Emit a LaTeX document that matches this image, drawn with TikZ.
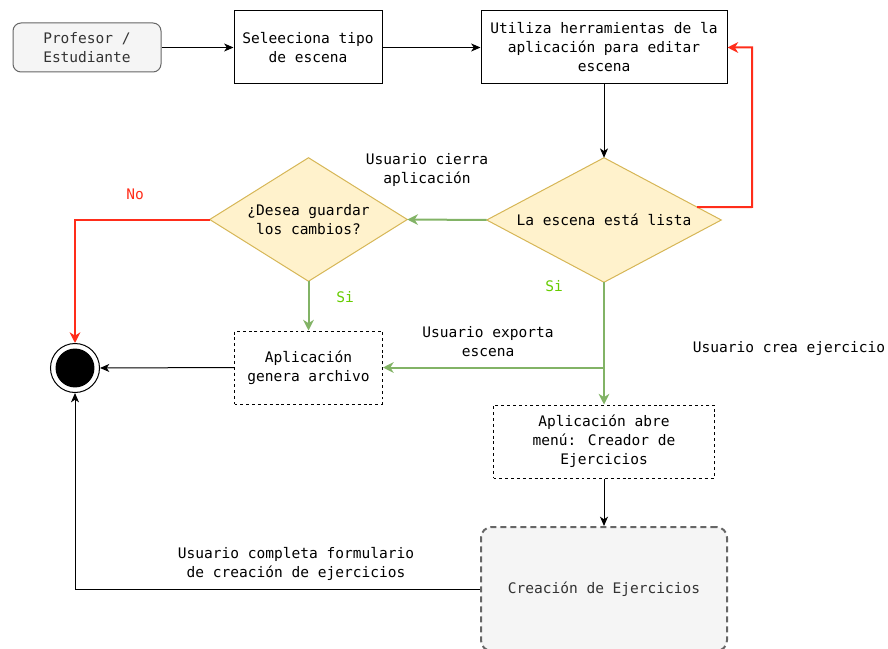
\documentclass[tikz,border=0pt]{standalone}
\usepackage{fontspec}
\setmainfont{DejaVu Sans Mono}
\usetikzlibrary{shapes.geometric,arrows.meta,calc,backgrounds}
\definecolor{boxgray}{HTML}{F5F5F5}
\definecolor{edgegray}{HTML}{666666}
\definecolor{txtgray}{HTML}{333333}
\definecolor{decfill}{HTML}{FFF2CC}
\definecolor{decdraw}{HTML}{D6B656}
\definecolor{okgreen}{HTML}{82B366}
\definecolor{sigreen}{HTML}{66CC00}
\definecolor{nored}{HTML}{FF2D1A}
\tikzset{
  txt/.style={font=\fontsize{10.9}{14.25}\selectfont, align=center},
  stepbox/.style={txt, draw, line width=0.75pt, rectangle, minimum width=148*0.75pt, minimum height=73*0.75pt, inner sep=2pt},
  dashbox/.style={stepbox, dash pattern=on 2.2pt off 2.2pt},
  decision/.style={txt, rectangle, inner sep=0pt},
  rhombus/.style={draw=decdraw, fill=decfill, line width=0.75pt, line join=miter},
  flow/.style={line width=0.75pt, -{Stealth[length=7pt,width=6pt,inset=2pt]}},
  yes/.style={flow, draw=okgreen, line width=1.5pt, -{Stealth[length=8pt,width=8pt,inset=2.5pt]}},
  nobranch/.style={flow, draw=nored, line width=1.5pt, -{Stealth[length=8pt,width=8pt,inset=2.5pt]}},
  lbl/.style={txt, inner sep=1pt}
}
\begin{document}
\begin{tikzpicture}[x=0.75pt,y=-0.75pt]
\useasboundingbox (0,0) rectangle (888,649);

% actor and first steps
\node[txt, draw=edgegray, fill=boxgray, text=txtgray, rounded corners=6pt, line width=0.75pt,
      minimum width=148*0.75pt, minimum height=49*0.75pt] (actor) at (87,47.5) {Profesor /\\Estudiante};
\node[stepbox] (tipo) at (308,47.5) {Seleeciona tipo\\de escena};
\node[stepbox, minimum width=246*0.75pt] (edit) at (604,47.5) {Utiliza herramientas de la\\aplicación para editar\\escena};

% decisions: a text box whose side midpoints are the rhombus corners
\node[decision, minimum width=234*0.75pt, minimum height=124*0.75pt] (lista) at (604,220) {La escena está lista};
\node[decision, minimum width=197*0.75pt, minimum height=123*0.75pt] (guardar) at (308.5,219.5) {¿Desea guardar\\los cambios?};
\begin{scope}[on background layer]
  \filldraw[rhombus] (lista.north) -- (lista.east) -- (lista.south) -- (lista.west) -- cycle;
  \filldraw[rhombus] (guardar.north) -- (guardar.east) -- (guardar.south) -- (guardar.west) -- cycle;
\end{scope}

% final state
\node[circle, draw, line width=0.75pt, fill=white, minimum size=49*0.75pt, inner sep=0pt] (fin) at (75,368) {};
\fill[black] (fin.center) circle[radius=14.6pt];

% actions
\node[dashbox] (archivo) at (308.5,367.5) {Aplicación\\genera archivo};
\node[dashbox, minimum width=221*0.75pt] (menu) at (604,441.5) {Aplicación abre\\menú: Creador de\\Ejercicios};
\node[txt, draw=edgegray, fill=boxgray, text=txtgray, rounded corners=8pt, line width=1.5pt,
      dash pattern=on 4.5pt off 3pt, minimum width=246*0.75pt, minimum height=124*0.75pt] (crea) at (604,589) {Creación de Ejercicios};

% connectors
\draw[flow] (actor) -- (tipo);
\draw[flow] (tipo) -- (edit);
\draw[flow] (edit) -- (lista.north);
\coordinate (rstart) at ($(lista.north)!0.795!(lista.east)$);
\draw[nobranch] (rstart) -- (752,207) |- (edit.east);
\draw[yes] (lista.west) -- (guardar.east);
\draw[nobranch] (guardar.west) -| (fin.north);
\draw[yes] (guardar.south) -- (archivo.north);
\draw[yes] (lista.south) -- (menu.north);
\coordinate (fork) at (lista.south |- archivo.east);
\draw[yes] (fork) -- (archivo.east);
\draw[flow] (archivo.west) -- (fin.east);
\draw[flow] (menu.south) -- (crea.north);
\draw[flow] (crea.west) -| (fin.south);

% connector labels
\node[lbl] (lcierra) at (427,170) {Usuario cierra\\aplicación};
\node[lbl, text=nored] (lno) at (135,194) {No};
\node[lbl, text=sigreen] (lsi1) at (345,297) {Si};
\node[lbl, text=sigreen] (lsi2) at (554,286) {Si};
\node[lbl] (lexporta) at (488,342) {Usuario exporta\\escena};
\node[lbl] (lcrea) at (789,348) {Usuario crea ejercicio};
\node[lbl] (lcompleta) at (296,563.5) {Usuario completa formulario\\de creación de ejercicios};
\end{tikzpicture}
\end{document}
